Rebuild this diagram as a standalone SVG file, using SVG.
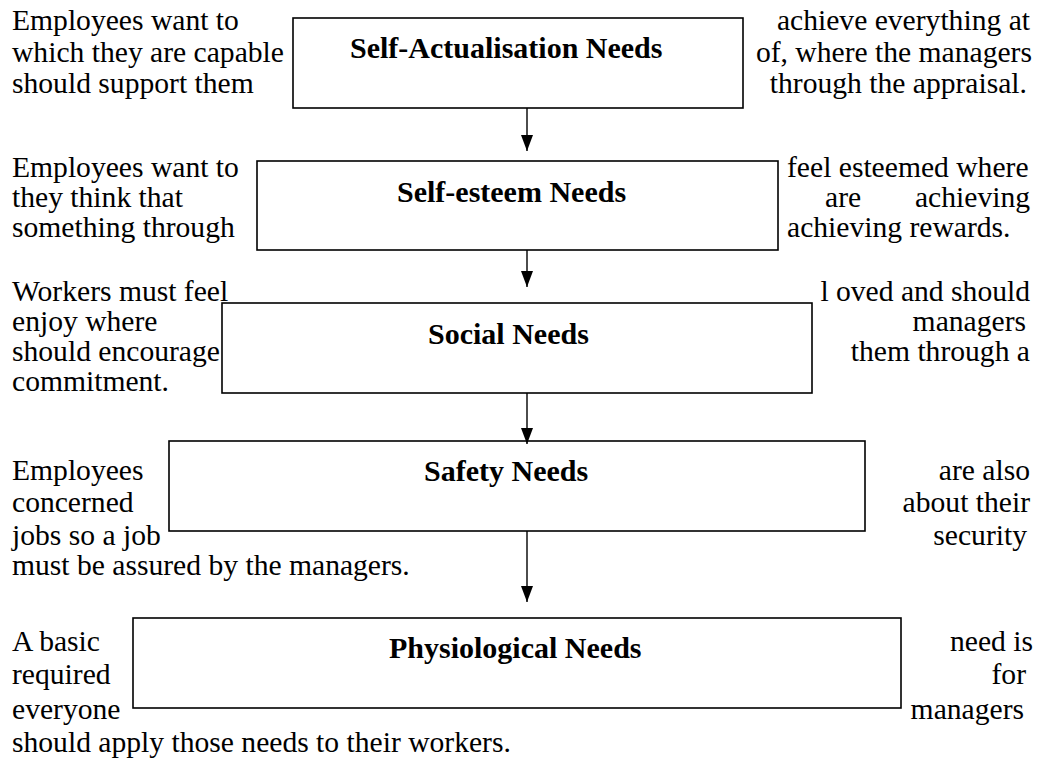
<svg xmlns="http://www.w3.org/2000/svg" width="1057" height="761" viewBox="0 0 1057 761">
<style>
  .t { font-family: "Liberation Serif", "Times New Roman", serif; font-size: 29.6px; fill: #000; }
  .e { text-anchor: end; }
  .b { font-family: "Liberation Serif", "Times New Roman", serif; font-size: 30px; font-weight: bold; fill: #000; }
  .box { fill: #fff; stroke: #000; stroke-width: 1.6; }
  .arrow { stroke: #000; stroke-width: 1.4; fill: none; }
</style>
<defs>
  <marker id="ah" markerWidth="16" markerHeight="12" refX="16" refY="6" orient="auto" markerUnits="userSpaceOnUse" viewBox="0 0 16 12">
    <path d="M0,0 L16,6 L0,12 Z" fill="#000"/>
  </marker>
</defs>
<rect width="1057" height="761" fill="#fff"/>

<g id="desc-self-actualisation">
  <text class="t" x="12" y="30">Employees want to</text>
  <text class="t" x="12" y="62">which they are capable</text>
  <text class="t" x="12" y="93">should support them</text>
  <text class="t e" x="1030" y="30">achieve everything at</text>
  <text class="t e" x="1032" y="62">of, where the managers</text>
  <text class="t e" x="1027" y="93">through the appraisal.</text>
</g>
<g id="desc-self-esteem">
  <text class="t" x="12" y="177">Employees want to</text>
  <text class="t" x="12" y="207">they think that</text>
  <text class="t" x="12" y="237">something through</text>
  <text class="t" x="787" y="177">feel esteemed where</text>
  <text class="t" x="825" y="207">are</text>
  <text class="t e" x="1030" y="207">achieving</text>
  <text class="t" x="787" y="237">achieving rewards.</text>
</g>
<g id="desc-social">
  <text class="t" x="12" y="301">Workers must feel</text>
  <text class="t" x="12" y="331">enjoy where</text>
  <text class="t" x="12" y="361">should encourage</text>
  <text class="t" x="12" y="391">commitment.</text>
  <text class="t e" x="1030" y="301">l oved and should</text>
  <text class="t e" x="1026" y="331">managers</text>
  <text class="t e" x="1030" y="361">them through a</text>
</g>
<g id="desc-safety">
  <text class="t" x="12" y="480">Employees</text>
  <text class="t" x="12" y="512">concerned</text>
  <text class="t" x="12" y="545">jobs so a job</text>
  <text class="t" x="12" y="575">must be assured by the managers.</text>
  <text class="t e" x="1030" y="480">are also</text>
  <text class="t e" x="1030" y="512">about their</text>
  <text class="t e" x="1027" y="545">security</text>
</g>
<g id="desc-physiological">
  <text class="t" x="12" y="651">A basic</text>
  <text class="t" x="12" y="684">required</text>
  <text class="t" x="12" y="719">everyone</text>
  <text class="t" x="12" y="752">should apply those needs to their workers.</text>
  <text class="t e" x="1033" y="651">need is</text>
  <text class="t e" x="1026" y="684">for</text>
  <text class="t e" x="1024" y="719">managers</text>
</g>

<g id="node-self-actualisation">
  <rect class="box" x="293" y="18" width="450" height="90"/>
  <text class="b" x="350" y="58">Self-Actualisation Needs</text>
</g>
<g id="node-self-esteem">
  <rect class="box" x="257" y="161" width="521" height="89"/>
  <text class="b" x="397" y="202">Self-esteem Needs</text>
</g>
<g id="node-social">
  <rect class="box" x="222" y="303" width="590" height="90"/>
  <text class="b" x="428" y="344">Social Needs</text>
</g>
<g id="node-safety">
  <rect class="box" x="169" y="441" width="696" height="90"/>
  <text class="b" x="424" y="481">Safety Needs</text>
</g>
<g id="node-physiological">
  <rect class="box" x="133" y="618" width="768" height="90"/>
  <text class="b" x="389" y="658">Physiological Needs</text>
</g>

<g id="connectors">
  <line class="arrow" x1="527" y1="108" x2="527" y2="151" marker-end="url(#ah)"/>
  <line class="arrow" x1="527" y1="250" x2="527" y2="287" marker-end="url(#ah)"/>
  <line class="arrow" x1="527" y1="393" x2="527" y2="444" marker-end="url(#ah)"/>
  <line class="arrow" x1="527" y1="531" x2="527" y2="602" marker-end="url(#ah)"/>
</g>
</svg>
